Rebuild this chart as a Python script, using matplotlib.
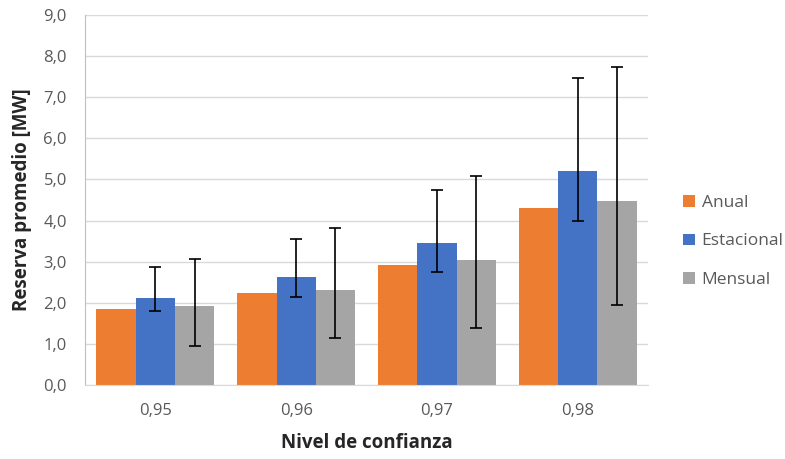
import numpy as np
import matplotlib
matplotlib.use("Agg")
import matplotlib.pyplot as plt

# ---- Data ----
niveles = ["0,95", "0,96", "0,97", "0,98"]
series = ["Anual", "Estacional", "Mensual"]

anual = [1.85, 2.23, 2.92, 4.30]
estacional = [2.12, 2.62, 3.46, 5.21]
mensual = [1.93, 2.31, 3.03, 4.48]

# error bar limits (low, high)
est_low = [1.80, 2.15, 2.76, 3.98]
est_high = [2.88, 3.56, 4.74, 7.47]
men_low = [0.96, 1.14, 1.38, 1.95]
men_high = [3.07, 3.83, 5.09, 7.74]

colors = ["#ED7D31", "#4472C4", "#A5A5A5"]

plt.rcParams['font.family'] = ['Open Sans', 'DejaVu Sans']

fig = plt.figure(figsize=(7.85, 4.59), dpi=100)
ax = fig.add_axes([0.1083, 0.1612, 0.7172, 0.8061])

x = np.arange(len(niveles))
w = 0.279

est_err = [np.array(estacional) - np.array(est_low), np.array(est_high) - np.array(estacional)]
men_err = [np.array(mensual) - np.array(men_low), np.array(men_high) - np.array(mensual)]

ax.bar(x - w, anual, w, color=colors[0], label=series[0], zorder=2)
ax.bar(x, estacional, w, color=colors[1], label=series[1], zorder=2)
ax.bar(x + w, mensual, w, color=colors[2], label=series[2], zorder=2)
ax.errorbar(x, estacional, yerr=est_err, fmt="none", ecolor="black",
            elinewidth=1.2, capsize=4, capthick=1.2, zorder=3)
ax.errorbar(x + w, mensual, yerr=men_err, fmt="none", ecolor="black",
            elinewidth=1.2, capsize=4, capthick=1.2, zorder=3)

ax.set_xlim(-0.5, len(niveles) - 0.5)
ax.set_ylim(0, 9)
ax.set_yticks(np.arange(0, 9.5, 1.0))
ax.set_yticklabels([f"{v:.1f}".replace(".", ",") for v in np.arange(0, 9.5, 1.0)])
ax.set_xticks(x)
ax.set_xticklabels(niveles)

ax.tick_params(axis="both", length=0, labelsize=12, colors="#595959")
ax.tick_params(axis="y", pad=13)
ax.tick_params(axis="x", pad=13)
ax.grid(axis="y", color="#D9D9D9", linewidth=1, zorder=0)
ax.set_axisbelow(True)
for s in ["top", "right"]:
    ax.spines[s].set_visible(False)
ax.spines["left"].set_color("#BFBFBF")
ax.spines["bottom"].set_color("#D9D9D9")

ax.set_ylabel("Reserva promedio [MW]", fontsize=13.5, fontweight="bold", color="#262626", labelpad=8)
ax.set_xlabel("Nivel de confianza", fontsize=13.5, fontweight="bold", color="#262626", labelpad=10)

leg = ax.legend(loc="center left", bbox_to_anchor=(1.035, 0.388), frameon=False,
                fontsize=12.5, handlelength=0.65, handleheight=0.65, handletextpad=0.4,
                labelspacing=1.3)
for t in leg.get_texts():
    t.set_color("#595959")

fig.savefig("out.png", dpi=100)
